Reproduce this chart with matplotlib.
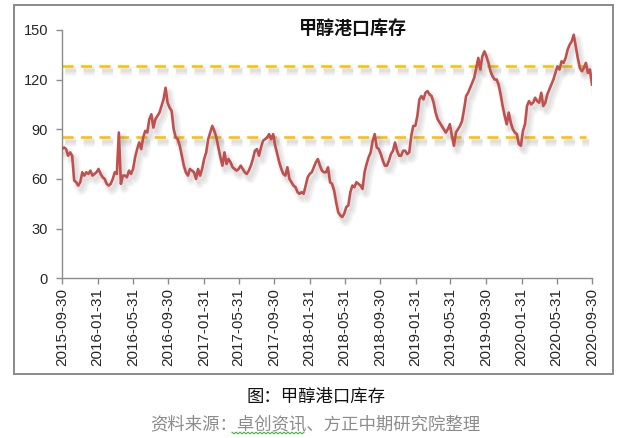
import numpy as np
import pandas as pd
import matplotlib
matplotlib.use("Agg")
import matplotlib.pyplot as plt
import matplotlib.dates as mdates
import matplotlib.patheffects as pe
from matplotlib.lines import Line2D
from matplotlib.patches import Rectangle

# weekly methanol port inventory (10k t)
start_date = "2015-09-30"
inventory = [
    78, 79, 78, 74, 76, 74, 59, 58, 56, 58, 64, 62, 64, 63, 65, 62, 63, 64, 66, 63,
    61, 60, 57, 56, 57, 60, 64, 63, 88, 57, 62, 62, 61, 65, 63, 66, 73, 78, 82, 78,
    85, 89, 88, 96, 99, 91, 96, 98, 100, 104, 108, 115, 106, 103, 101, 90, 85, 84, 80, 74,
    68, 64, 62, 66, 65, 64, 60, 66, 62, 66, 72, 76, 84, 88, 92, 89, 85, 79, 73, 68,
    76, 69, 72, 70, 67, 66, 65, 66, 68, 66, 64, 63, 65, 68, 72, 77, 78, 74, 79, 83,
    84, 85, 87, 84, 87, 80, 75, 70, 66, 63, 62, 67, 60, 58, 56, 55, 52, 51, 52, 51,
    56, 61, 63, 64, 67, 70, 72, 68, 65, 64, 64, 67, 58, 57, 53, 46, 40, 38, 37, 39,
    43, 44, 52, 56, 55, 58, 57, 56, 54, 64, 69, 73, 76, 83, 87, 79, 78, 75, 71, 68,
    68, 71, 75, 77, 82, 77, 74, 74, 77, 77, 75, 76, 86, 92, 92, 98, 108, 110, 108, 112,
    113, 111, 110, 106, 100, 96, 94, 92, 90, 88, 90, 93, 86, 80, 88, 90, 92, 95, 102, 110,
    112, 115, 118, 121, 127, 133, 126, 134, 137, 134, 130, 125, 122, 120, 120, 117, 111, 104, 98, 93,
    100, 94, 90, 88, 87, 81, 80, 89, 93, 104, 107, 105, 106, 109, 107, 106, 112, 104, 106, 111,
    114, 117, 120, 124, 128, 126, 131, 130, 133, 138, 141, 143, 147, 140, 133, 127, 125, 127, 130, 124,
    126, 117,
]
upper_level = 128.3
lower_level = 85.5
tick_labels = [
    "2015-09-30", "2016-01-31", "2016-05-31", "2016-09-30", "2017-01-31", "2017-05-31",
    "2017-09-30", "2018-01-31", "2018-05-31", "2018-09-30", "2019-01-31", "2019-05-31",
    "2019-09-30", "2020-01-31", "2020-05-31", "2020-09-30",
]
y_ticks = [0, 30, 60, 90, 120, 150]

title = "甲醇港口库存"
caption = "图：甲醇港口库存"
source = "资料来源：卓创资讯、方正中期研究院整理"

dates = pd.date_range(start_date, periods=len(inventory), freq="7D")
tick_dates = pd.to_datetime(tick_labels)

W, H = 631, 438
fig = plt.figure(figsize=(W / 100, H / 100), dpi=100)
fig.patch.set_facecolor("white")

# outer chart frame
fig.add_artist(Rectangle((13.5 / W, 1 - 374 / H), (613 - 13.5) / W, (374 - 4.5) / H,
                         transform=fig.transFigure, fill=False,
                         edgecolor="#8a8a8a", linewidth=1.4))

ax = fig.add_axes([62 / W, 1 - 278.3 / H, (592 - 62) / W, (278.3 - 29.8) / H])
ax.set_facecolor("none")

# soft drop shadow, a few wide faint strokes stacked
shadow = [pe.SimpleLineShadow(offset=(2.5, -3.5), shadow_color="#808080", alpha=0.07, linewidth=7),
          pe.SimpleLineShadow(offset=(2.5, -3.5), shadow_color="#808080", alpha=0.09, linewidth=4.5),
          pe.SimpleLineShadow(offset=(2, -3), shadow_color="#808080", alpha=0.10, linewidth=2.5),
          pe.Normal()]

ax.plot(dates, inventory, color="#c0504d", linewidth=1.9, path_effects=shadow, zorder=3)
for lvl in (upper_level, lower_level):
    ax.plot([dates[0], dates[-4]], [lvl, lvl], color="#ffc000", linewidth=1.9,
            dashes=(4.2, 2.8), path_effects=shadow, zorder=2)

ax.set_xlim(dates[0], dates[-1])
ax.set_ylim(0, 150)
ax.set_yticks(y_ticks)
ax.set_xticks(tick_dates)
ax.xaxis.set_major_formatter(mdates.DateFormatter("%Y-%m-%d"))

for side in ("top", "right"):
    ax.spines[side].set_visible(False)
for side in ("left", "bottom"):
    ax.spines[side].set_color("#8c8c8c")
    ax.spines[side].set_linewidth(1.0)

ax.tick_params(axis="y", direction="out", length=4, width=1.0, color="#8c8c8c",
               labelsize=10.5, labelcolor="#262626", pad=6)
ax.tick_params(axis="x", direction="out", length=4, width=1.0, color="#8c8c8c",
               labelsize=11, labelcolor="#262626", pad=3, labelrotation=90)
for lab in ax.get_xticklabels() + ax.get_yticklabels():
    lab.set_family("Liberation Sans")

cjk = ["Noto Sans CJK SC", "DejaVu Sans"]
fig.text(353 / W, 1 - 28 / H, title, ha="center", va="center", fontsize=13,
         fontweight="bold", family=cjk, color="#111111")
fig.text(316 / W, 1 - 397 / H, caption, ha="center", va="center", fontsize=12.5,
         family=cjk, color="#111111")
fig.text(315 / W, 1 - 424 / H, source, ha="center", va="center", fontsize=12.5,
         family=cjk, color="#8c8c8c")

# green spell-check squiggle under the data vendor name
xs = np.linspace(232, 304, 37)
ys = 433 + np.where(np.arange(len(xs)) % 2 == 0, -0.8, 0.8)
fig.add_artist(Line2D(xs / W, 1 - ys / H, transform=fig.transFigure,
                      color="#3cb43c", linewidth=0.8))

fig.savefig("out.png", dpi=100)
